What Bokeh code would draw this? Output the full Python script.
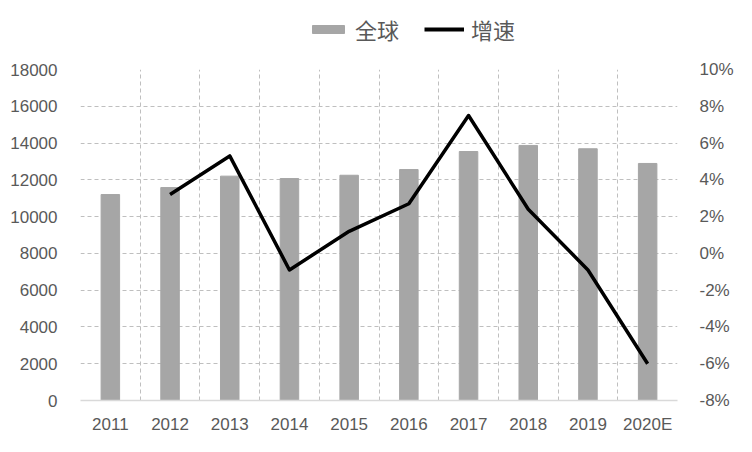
from bokeh.plotting import figure
from bokeh.layouts import column
from bokeh.models import (Range1d, LinearAxis, FixedTicker, PrintfTickFormatter,
                          Legend, LegendItem, ColumnDataSource)
from bokeh.embed import file_html
from bokeh.resources import INLINE

# ---- data ----
years = ["2011", "2012", "2013", "2014", "2015", "2016", "2017", "2018", "2019", "2020E"]
global_vals = [11200, 11580, 12200, 12070, 12250, 12560, 13540, 13870, 13690, 12890]
growth_years = ["2012", "2013", "2014", "2015", "2016", "2017", "2018", "2019", "2020E"]
growth = [3.2, 5.3, -0.9, 1.2, 2.7, 7.5, 2.4, -0.9, -6.0]
left_ticks = [0, 2000, 4000, 6000, 8000, 10000, 12000, 14000, 16000, 18000]
right_ticks = [-8, -6, -4, -2, 0, 2, 4, 6, 8, 10]
series_names = ["全球", "增速"]

pos = {y: i + 0.5 for i, y in enumerate(years)}

bar_src = ColumnDataSource(dict(x=[pos[y] for y in years], top=global_vals))
line_src = ColumnDataSource(dict(x=[pos[y] for y in growth_years], y=growth))

TXT = "#595959"
FONT = "Liberation Sans"
BAR_C = "#a6a6a6"
W = 736
LEG_H = 57
MAIN_H = 436 - LEG_H

# ---- main chart ----
p = figure(width=W, height=MAIN_H, output_backend="svg", toolbar_location=None,
           x_range=Range1d(0, len(years)), y_range=Range1d(left_ticks[0], left_ticks[-1]),
           min_border_left=80, min_border_right=53, min_border_top=12, min_border_bottom=36)
p.extra_y_ranges = {"g": Range1d(right_ticks[0], right_ticks[-1])}
p.outline_line_color = None
p.background_fill_color = "white"
p.border_fill_color = "white"

p.vbar(x="x", top="top", width=0.31, source=bar_src, color=BAR_C)
p.line(x="x", y="y", source=line_src, y_range_name="g", color="black",
       line_width=3.5, line_join="round")

p.xaxis.ticker = FixedTicker(ticks=[pos[y] for y in years])
p.xaxis.major_label_overrides = {pos[y]: y for y in years}
p.xaxis.axis_line_color = "#d9d9d9"
p.xaxis.axis_line_width = 1.5
p.yaxis.ticker = FixedTicker(ticks=left_ticks)
p.yaxis.axis_line_color = None
p.yaxis.major_label_standoff = 17

ax_r = LinearAxis(y_range_name="g", ticker=FixedTicker(ticks=right_ticks),
                  formatter=PrintfTickFormatter(format="%d%%"))
ax_r.axis_line_color = None
ax_r.major_label_standoff = 16
p.add_layout(ax_r, "right")

for ax in [p.xaxis[0], p.yaxis[0], ax_r]:
    ax.major_tick_line_color = None
    ax.minor_tick_line_color = None
    ax.major_label_text_font = FONT
    ax.major_label_text_font_size = "17px"
    ax.major_label_text_color = TXT
p.xaxis.major_label_standoff = 8

p.xgrid.ticker = FixedTicker(ticks=list(range(len(years) + 1)))
p.xgrid.grid_line_color = "#bfbfbf"
p.xgrid.grid_line_dash = "4 3"
p.ygrid.ticker = FixedTicker(ticks=left_ticks[1:])
p.ygrid.grid_line_color = "#bfbfbf"
p.ygrid.grid_line_dash = "4 3"

# ---- legend strip (its frame is aligned with the main chart's frame) ----
lg = figure(width=W, height=LEG_H, output_backend="svg", toolbar_location=None,
            x_range=Range1d(0, 1), y_range=Range1d(0, 1),
            min_border_left=0, min_border_right=0, min_border_top=0, min_border_bottom=0)
lg.axis.visible = False
lg.grid.visible = False
lg.outline_line_color = None
lg.border_fill_color = "white"
lg.background_fill_color = "white"
# proxy renderers placed far outside the visible range, used only for legend swatches
r_bar = lg.vbar(x=[-50], top=[-50], bottom=[-60], width=0.3, color=BAR_C)
r_line = lg.line(x=[-60, -50], y=[-50, -50], color="black", line_width=4)
legend = Legend(items=[LegendItem(label=series_names[0], renderers=[r_bar]),
                       LegendItem(label=series_names[1], renderers=[r_line])],
                orientation="horizontal", location=(228, 12),
                glyph_width=40, glyph_height=10, label_standoff=7, spacing=25,
                label_text_font="Noto Sans CJK SC", label_text_font_size="22px",
                label_text_color=TXT, border_line_color=None,
                background_fill_alpha=0, padding=0, margin=0)
lg.add_layout(legend, "center")

layout = column(lg, p, spacing=0)
open("out.html", "w").write(file_html(layout, INLINE))
